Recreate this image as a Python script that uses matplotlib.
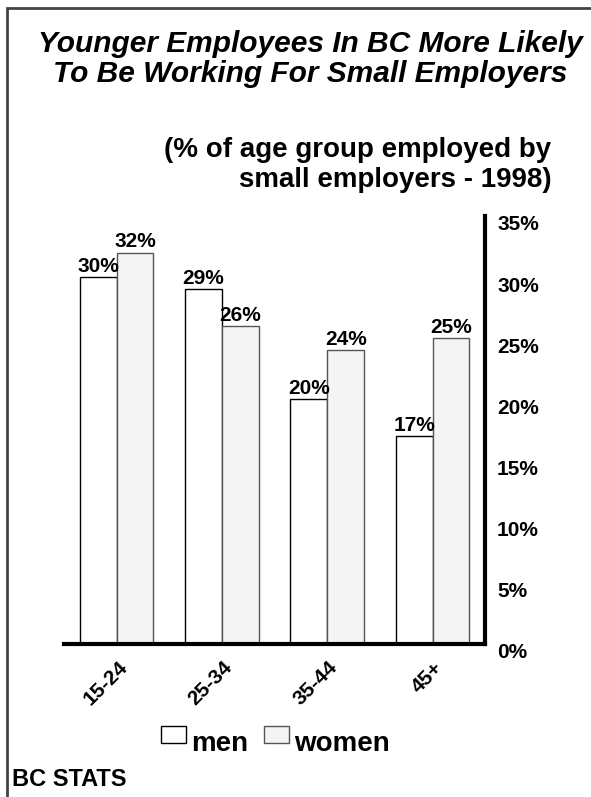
import matplotlib.pyplot as plt
import numpy as np
from matplotlib.patches import Rectangle
import matplotlib.transforms as mtransforms

plt.rcParams['font.family'] = ['Liberation Sans', 'DejaVu Sans']
plt.rcParams['font.weight'] = 'bold'

# data
age_groups = ['15-24', '25-34', '35-44', '45+']
men = [30, 29, 20, 17]
women = [32, 26, 24, 25]
y_ticks = [0, 5, 10, 15, 20, 25, 30, 35]

fig = plt.figure(figsize=(5.91, 7.97), dpi=100)
ax = fig.add_axes([0.108, 0.192, 0.713, 0.537])

x = np.arange(len(age_groups))
width = 0.35
bars_m = ax.bar(x - width/2, men, width, color='white', edgecolor='black', linewidth=1, label='men')
bars_w = ax.bar(x + width/2, women, width, color='#f4f4f4', edgecolor='#555555', linewidth=1, label='women')

for bars in (bars_m, bars_w):
    for b in bars:
        h = b.get_height()
        ax.text(b.get_x() + b.get_width()/2, h + 0.1, f'{h:.0f}%', ha='center', va='bottom',
                fontsize=15, fontweight='bold')

ax.set_xlim(-0.5, 3.5)
ax.set_ylim(0, 35)
ax.yaxis.tick_right()
ax.set_yticks(y_ticks)
ax.set_yticklabels([f'{t}%' for t in y_ticks], fontsize=15, fontweight='bold')
ax.tick_params(axis='y', length=0, pad=8.5)
down = mtransforms.ScaledTranslation(0, -7/100, fig.dpi_scale_trans)
for lbl in ax.get_yticklabels():
    lbl.set_transform(lbl.get_transform() + down)

ax.set_xticks(x)
ax.set_xticklabels(age_groups, rotation=45, ha='right', va='top', fontsize=15, fontweight='bold',
                   rotation_mode='anchor')
ax.tick_params(axis='x', length=0, pad=10)
offset = mtransforms.ScaledTranslation(1/100, 0, fig.dpi_scale_trans)
for lbl in ax.get_xticklabels():
    lbl.set_transform(lbl.get_transform() + offset)

for s in ('top', 'left'):
    ax.spines[s].set_visible(False)
ax.spines['bottom'].set_linewidth(3)
ax.spines['right'].set_linewidth(3)

# titles
fig.text(0.525, 0.926, 'Younger Employees In BC More Likely\nTo Be Working For Small Employers',
         ha='center', va='center', fontsize=21.5, fontweight='bold', style='italic', linespacing=1.05)
fig.text(0.933, 0.793, '(% of age group employed by\nsmall employers - 1998)',
         ha='right', va='center', fontsize=20, fontweight='bold', linespacing=1.2)

leg = fig.legend(loc='center', bbox_to_anchor=(0.466, 0.066), ncol=2, frameon=False,
                 fontsize=20, handlelength=0.9, handleheight=0.55, handletextpad=0.15,
                 columnspacing=0.6)
for h in leg.legend_handles:
    h.set_y(h.get_y() + 5)

fig.text(0.02, 0.022, 'BC STATS', ha='left', va='center', fontsize=17, fontweight='bold')

# border around figure
border = Rectangle((0.012, -0.02), 1.0, 1.01, transform=fig.transFigure,
                   fill=False, edgecolor='#444444', linewidth=2)
fig.patches.append(border)

fig.savefig('out.png', dpi=100)
